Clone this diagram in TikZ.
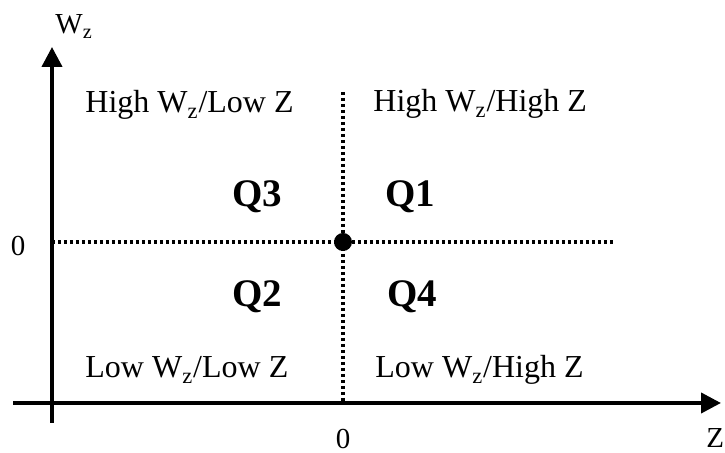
\documentclass[tikz,border=0pt]{standalone}
\usepackage{fontspec}
\setmainfont{Liberation Serif}
\usetikzlibrary{arrows.meta, positioning}

\begin{document}
\begin{tikzpicture}[
    x=0.5pt, y=-0.5pt,
    axis/.style={line width=2pt, -{Triangle[length=10pt, width=10pt]}},
    grid/.style={line width=1.8pt, dash pattern=on 1.7pt off 1.3pt},
    region/.style={anchor=base west, inner sep=0pt, font=\fontsize{16}{19}\selectfont},
    quad/.style={anchor=base west, inner sep=0pt, font=\fontsize{19.5}{23}\selectfont\bfseries},
    axislabel/.style={inner sep=0pt, font=\fontsize{14.5}{17}\selectfont}
]
\useasboundingbox (0,0) rectangle (725,453);

% Coordinates
\coordinate (xstart) at (13,403);
\coordinate (xend)   at (721,403);
\coordinate (ystart) at (52,423);
\coordinate (yend)   at (52,47);
\coordinate (hleft)  at (52,242);
\coordinate (hright) at (613,242);
\coordinate (vtop)   at (343,92);
\coordinate (vbot)   at (343,403);
\coordinate (origin) at (343,242);

% Dotted quadrant lines
\draw[grid] (hleft) -- (hright);
\draw[grid] (vtop) -- (vbot);

% Axes
\draw[axis] (xstart) -- (xend);
\draw[axis] (ystart) -- (yend);
\fill (origin) circle[radius=4.5pt];

% Region labels
\node[region] (hl) at (85,113)  {High W\textsubscript{z}/Low Z};
\node[region] (hh) at (373,112) {High W\textsubscript{z}/High Z};
\node[region] (ll) at (85,378)  {Low W\textsubscript{z}/Low Z};
\node[region] (lh) at (375,378) {Low W\textsubscript{z}/High Z};

% Quadrant numbers
\node[quad] (q3) at (232,207) {Q3};
\node[quad] (q1) at (385,207) {Q1};
\node[quad] (q2) at (232,307) {Q2};
\node[quad] (q4) at (387,307) {Q4};

% Axis labels
\node[axislabel, anchor=base west] (wz) at (55,34) {W\textsubscript{z}};
\node[axislabel] (yzero) at (18,246) {0};
\node[axislabel] (xzero) at (343,439) {0};
\node[axislabel, anchor=base west] (zlab) at (706,448) {Z};

\end{tikzpicture}
\end{document}
